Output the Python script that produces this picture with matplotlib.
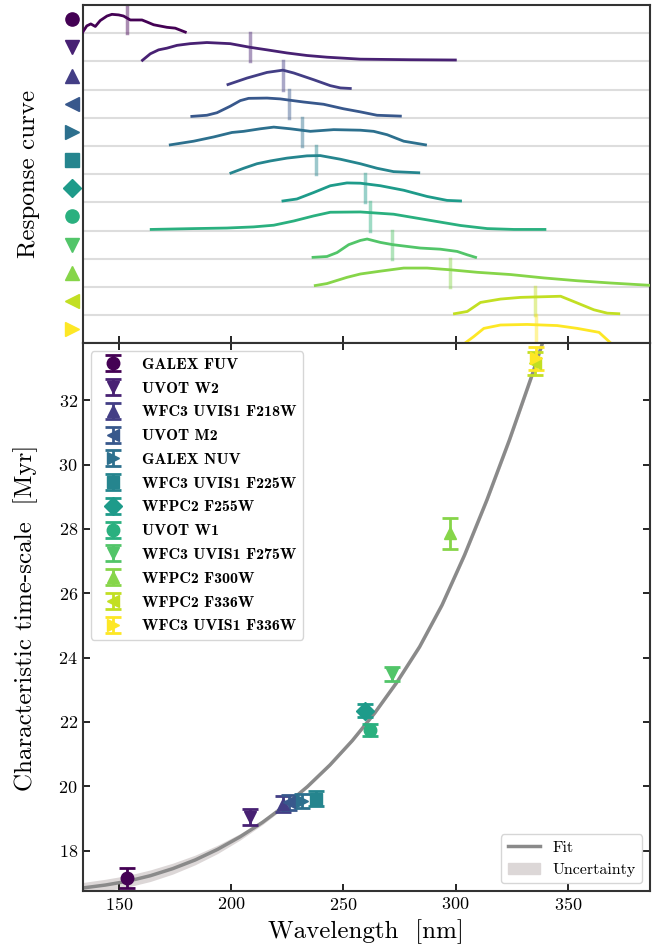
import numpy as np
import matplotlib.pyplot as plt
import matplotlib.transforms as mtransforms
from matplotlib.font_manager import FontProperties
from matplotlib.lines import Line2D
from matplotlib.patches import Patch

plt.rcParams['font.family'] = 'serif'
plt.rcParams['font.serif'] = ['cmr10']
plt.rcParams['mathtext.fontset'] = 'cm'
plt.rcParams['axes.formatter.use_mathtext'] = True

#region data
filters = ["GALEX FUV", "UVOT W2", "WFC3 UVIS1 F218W", "UVOT M2", "GALEX NUV",
           "WFC3 UVIS1 F225W", "WFPC2 F255W", "UVOT W1", "WFC3 UVIS1 F275W",
           "WFPC2 F300W", "WFPC2 F336W", "WFC3 UVIS1 F336W"]
markers = ['o', 'v', '^', '<', '>', 's', 'D', 'o', 'v', '^', '<', '>']
mean_wl = [153.7, 208.5, 223.1, 225.6, 231.5, 238.0, 259.8, 261.7, 271.7, 297.4, 335.2, 336.0]
tau = [17.15, 19.05, 19.45, 19.50, 19.54, 19.62, 22.35, 21.76, 23.49, 27.86, 33.15, 33.30]
tau_err = [0.32, 0.25, 0.24, 0.23, 0.23, 0.22, 0.20, 0.19, 0.21, 0.49, 0.35, 0.37]

# response curves, as fraction of a row height
fuv_wl = [133.9, 135.7, 137.5, 139.5, 141.7, 144.7, 146.9, 149.9, 152.1, 155.1, 160.3, 162.5, 165.5, 171.4, 175.1, 179.6]
fuv_resp = [0.04, 0.26, 0.33, 0.24, 0.45, 0.61, 0.67, 0.65, 0.61, 0.47, 0.47, 0.40, 0.30, 0.21, 0.18, 0.04]
w2_wl = [160.5, 164.0, 167.7, 171.4, 175.9, 181.8, 189.2, 199.6, 208.5, 216.0, 224.9, 233.8, 242.7, 257.6, 280.0, 299.9]
w2_resp = [0.04, 0.27, 0.41, 0.47, 0.57, 0.63, 0.67, 0.63, 0.50, 0.41, 0.30, 0.21, 0.15, 0.08, 0.06, 0.05]
f218w_wl = [198.6, 207.1, 216.0, 223.1, 227.9, 236.8, 244.2, 248.7, 253.1]
f218w_resp = [0.18, 0.41, 0.61, 0.69, 0.59, 0.35, 0.14, 0.06, 0.04]
m2_wl = [182.5, 189.2, 193.7, 199.6, 204.1, 207.8, 216.0, 221.9, 225.6, 232.3, 241.2, 250.1, 257.6, 265.0, 275.4]
m2_resp = [0.05, 0.09, 0.18, 0.41, 0.61, 0.69, 0.70, 0.67, 0.63, 0.56, 0.48, 0.32, 0.21, 0.09, 0.06]
nuv_wl = [172.9, 183.3, 192.2, 200.4, 205.6, 213.0, 219.0, 226.4, 235.3, 245.7, 257.6, 263.5, 269.5, 276.9, 286.6]
nuv_resp = [0.04, 0.17, 0.32, 0.48, 0.52, 0.61, 0.67, 0.61, 0.52, 0.58, 0.56, 0.52, 0.40, 0.17, 0.04]
f225w_wl = [199.9, 205.6, 211.5, 217.5, 224.9, 233.8, 239.7, 248.7, 257.6, 265.0, 272.4, 283.6]
f225w_resp = [0.04, 0.21, 0.37, 0.47, 0.57, 0.65, 0.66, 0.53, 0.37, 0.21, 0.09, 0.05]
f255w_wl = [223.1, 229.3, 236.8, 244.2, 251.6, 257.6, 266.5, 276.9, 287.3, 296.2, 302.2]
f255w_resp = [0.05, 0.12, 0.35, 0.59, 0.69, 0.68, 0.59, 0.43, 0.21, 0.07, 0.05]
w1_wl = [164.4, 183.3, 198.1, 210.0, 219.0, 227.9, 236.8, 244.2, 257.6, 272.4, 287.3, 302.2, 314.1, 326.0, 339.8]
w1_resp = [0.04, 0.07, 0.09, 0.13, 0.19, 0.34, 0.52, 0.65, 0.66, 0.58, 0.38, 0.18, 0.07, 0.04, 0.04]
f275w_wl = [236.5, 242.7, 247.2, 252.4, 257.6, 260.6, 266.5, 272.0, 284.3, 293.2, 300.7, 305.2, 308.9]
f275w_resp = [0.05, 0.08, 0.22, 0.50, 0.65, 0.70, 0.58, 0.50, 0.38, 0.34, 0.26, 0.14, 0.05]
f300w_wl = [237.5, 242.7, 251.6, 257.6, 266.5, 276.9, 287.3, 297.4, 309.6, 324.5, 339.3, 354.2, 369.0, 386.1]
f300w_resp = [0.05, 0.12, 0.34, 0.46, 0.56, 0.67, 0.67, 0.61, 0.52, 0.44, 0.32, 0.22, 0.14, 0.06]
wf336_wl = [299.5, 305.2, 311.1, 320.0, 328.9, 346.8, 352.7, 361.6, 367.6, 372.7]
wf336_resp = [0.05, 0.13, 0.45, 0.57, 0.63, 0.67, 0.48, 0.19, 0.07, 0.05]
f336w_wl = [304.4, 308.1, 312.6, 320.0, 331.9, 345.3, 354.2, 363.9, 369.0]
f336w_resp = [0.02, 0.24, 0.53, 0.65, 0.67, 0.63, 0.53, 0.39, 0.02]

# fit and its uncertainty, every 10 nm
fit_wl = [134, 144, 154, 164, 174, 184, 194, 204, 214, 224, 234, 244, 254, 264, 274, 284, 294, 304, 314, 324, 334, 339.5]
fit_tau = [16.84, 16.93, 17.05, 17.22, 17.44, 17.71, 18.04, 18.43, 18.88, 19.40, 19.99, 20.66, 21.42,
           22.28, 23.25, 24.34, 25.64, 27.19, 28.91, 30.77, 32.77, 33.95]
fit_sig = [0.17, 0.18, 0.18, 0.18, 0.17, 0.15, 0.13, 0.10, 0.07, 0.05, 0.04, 0.04, 0.04,
           0.05, 0.06, 0.07, 0.08, 0.09, 0.10, 0.11, 0.12, 0.13]
#endregion

curves_wl = [fuv_wl, w2_wl, f218w_wl, m2_wl, nuv_wl, f225w_wl, f255w_wl, w1_wl, f275w_wl, f300w_wl, wf336_wl, f336w_wl]
curves_resp = [fuv_resp, w2_resp, f218w_resp, m2_resp, nuv_resp, f225w_resp, f255w_resp, w1_resp, f275w_resp, f300w_resp, wf336_resp, f336w_resp]

n = len(filters)
colors = plt.cm.viridis(np.linspace(0, 1, n))
spine_col = '#333333'

fig = plt.figure(figsize=(6.65, 9.5), dpi=100)
ax_top = fig.add_axes([0.1244, 0.6386, 0.853, 0.3561])
ax = fig.add_axes([0.1244, 0.0616, 0.853, 0.577], sharex=ax_top)

#region response curves
trans = mtransforms.blended_transform_factory(ax_top.transAxes, ax_top.transData)
for i in range(n):
    off = n - 1 - i
    if off > 0:
        ax_top.axhline(off, color='#dddddd', lw=1.5, zorder=1)
    ax_top.plot(curves_wl[i], np.array(curves_resp[i]) + off, color=colors[i], lw=2.0, zorder=3)
    ax_top.plot([mean_wl[i], mean_wl[i]], [off, off + 1], color=colors[i], alpha=0.45, lw=2.5, zorder=2)
    ax_top.plot(-0.0194, off + 0.5, marker=markers[i], color=colors[i], ms=9.5,
                transform=trans, clip_on=False, ls='none')
ax_top.set_ylim(0, n)
ax_top.set_yticks([])
ax_top.tick_params(axis='x', direction='in', length=5, width=1.2, labelbottom=False)
ax_top.set_ylabel("Response curve", fontsize=18)
ax_top.yaxis.set_label_coords(-0.075, 0.5)
#endregion

#region time-scale
ax.fill_between(fit_wl, np.array(fit_tau) - np.array(fit_sig), np.array(fit_tau) + np.array(fit_sig),
                color='#dcd7d7', lw=0, zorder=1)
ax.plot(fit_wl, fit_tau, color='#8a8a8a', lw=2.5, zorder=2)
for i in range(n):
    ax.errorbar(mean_wl[i], tau[i], yerr=tau_err[i], fmt=markers[i], color=colors[i], ms=9,
                capsize=6, elinewidth=2, capthick=2, label=filters[i], zorder=3)

ax.set_xlim(133.9, 386.6)
ax.set_ylim(16.73, 33.77)
ax.set_xticks([150, 200, 250, 300, 350])
ax.set_yticks([18, 20, 22, 24, 26, 28, 30, 32])
ax.tick_params(direction='in', top=True, right=True, length=5, width=1.2, labelsize=13)
ax.set_xlabel("Wavelength  [nm]", fontsize=18)
ax.set_ylabel("Characteristic time-scale  [Myr]", fontsize=18)
ax.yaxis.set_label_coords(-0.079, 0.5)

leg1 = ax.legend(loc='upper left', prop=FontProperties(family='cmb10', size=11.5), labelspacing=0.6)
fit_handles = [Line2D([], [], color='#8a8a8a', lw=2.5), Patch(color='#dcd7d7')]
ax.legend(fit_handles, ["Fit", "Uncertainty"], loc='lower right', fontsize=11.5)
ax.add_artist(leg1)
#endregion

for a in (ax_top, ax):
    for s in a.spines.values():
        s.set_color(spine_col)
        s.set_linewidth(1.5)

plt.savefig("out.png", dpi=100)
